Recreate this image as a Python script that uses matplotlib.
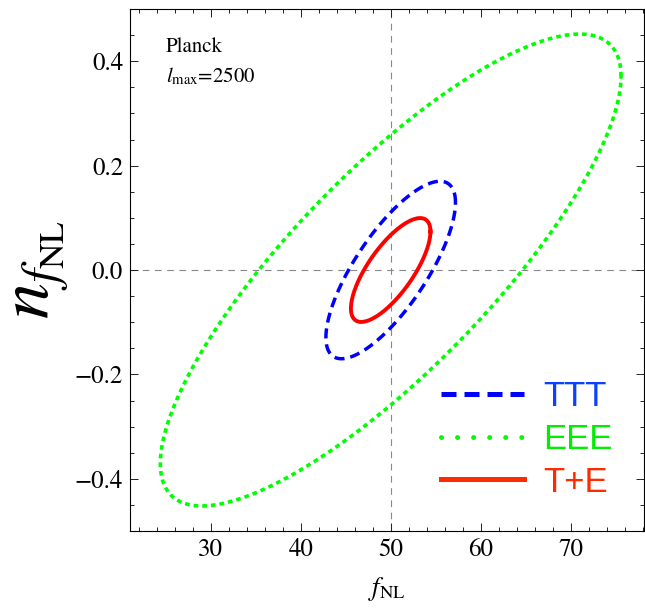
import matplotlib
matplotlib.use("Agg")
import matplotlib.pyplot as plt
import numpy as np
from matplotlib.lines import Line2D
from matplotlib.ticker import MultipleLocator

# --- Forecast contours ----------------------------------------------------
names = ["TTT", "EEE", "T+E"]
center_fnl = [50.0, 50.0, 50.0]
center_n = [0.0, 0.0, 0.0]
sigma_fnl = [7.2, 25.6, 4.42]        # half-width of each ellipse along f_NL
sigma_n = [0.170, 0.452, 0.0995]     # half-height along n_fNL
corr = [0.76, 0.82, 0.74]            # correlation coefficient

fiducial_fnl = 50.0
fiducial_n = 0.0

# --- Style ---------------------------------------------------------------
line_colors = ["#0000ff", "#00ff00", "#ff0000"]
label_colors = ["#0a40ff", "#00ee00", "#ff2a00"]
line_styles = [(0, (2.9, 1.7)), (0, (1.3, 1.1)), "-"]
line_widths = [2.5, 2.6, 2.8]

plt.rcParams["font.family"] = "STIXGeneral"
plt.rcParams["mathtext.fontset"] = "stix"


def contour(cx, cy, sx, sy, rho, n=600):
    t = np.linspace(0, 2 * np.pi, n)
    x = cx + sx * np.cos(t)
    y = cy + sy * (rho * np.cos(t) + np.sqrt(1 - rho ** 2) * np.sin(t))
    return x, y


fig = plt.figure(figsize=(6.45, 6.09), dpi=100)
ax = fig.add_axes([130 / 645, 78 / 609, 514 / 645, 522 / 609])

ax.axvline(fiducial_fnl, color="#888888", lw=0.8, ls=(0, (6, 5)), zorder=1)
ax.axhline(fiducial_n, color="#888888", lw=0.8, ls=(0, (6, 5)), zorder=1)

for i in [1, 0, 2]:
    x, y = contour(center_fnl[i], center_n[i], sigma_fnl[i], sigma_n[i], corr[i])
    ax.plot(x, y, color=line_colors[i], lw=line_widths[i], ls=line_styles[i],
            dash_capstyle="butt", zorder=3)

ax.set_xlim(21.03, 78.15)
ax.set_ylim(-0.5, 0.5)
ax.xaxis.set_major_locator(MultipleLocator(10))
ax.xaxis.set_minor_locator(MultipleLocator(2))
ax.yaxis.set_major_locator(MultipleLocator(0.2))
ax.yaxis.set_minor_locator(MultipleLocator(0.05))
ax.yaxis.set_major_formatter(plt.FuncFormatter(lambda v, p: f"{v:.1f}".replace("-", "\u2212")))
ax.tick_params(which="both", direction="in", top=True, right=True,
               width=0.7, color="#222222", labelsize=18)
ax.tick_params(which="major", length=5.5, pad=5)
ax.tick_params(which="minor", length=3)
for s in ax.spines.values():
    s.set_linewidth(0.8)

ax.text(0.070, 0.918, "Planck", transform=ax.transAxes, fontsize=15)
ax.text(0.070, 0.860, r"$l_{\mathrm{max}}$=2500", transform=ax.transAxes, fontsize=15)

ax.set_xlabel(r"$f_{\mathrm{NL}}$", fontsize=19)
ax.set_ylabel(r"$n_{f_{\mathrm{NL}}}$", fontsize=52)
ax.xaxis.set_label_coords(0.5, -0.085)
ax.yaxis.set_label_coords(-0.112, 0.50)

handles = [
    Line2D([], [], color=line_colors[0], lw=3.6, ls=(0, (3, 1.6))),
    Line2D([], [], color=line_colors[1], lw=3.6, ls=(0, (0.01, 3.2)), dash_capstyle="round"),
    Line2D([], [], color=label_colors[2], lw=3.6),
]
leg = ax.legend(handles, names, loc="upper left", bbox_to_anchor=(0.605, 0.289),
                frameon=False, borderpad=0, borderaxespad=0, handlelength=2.4,
                handletextpad=0.55, labelspacing=0.28,
                prop={"family": "Liberation Sans", "size": 25})
for txt, c in zip(leg.get_texts(), label_colors):
    txt.set_color(c)

fig.savefig("out.png", dpi=100)
